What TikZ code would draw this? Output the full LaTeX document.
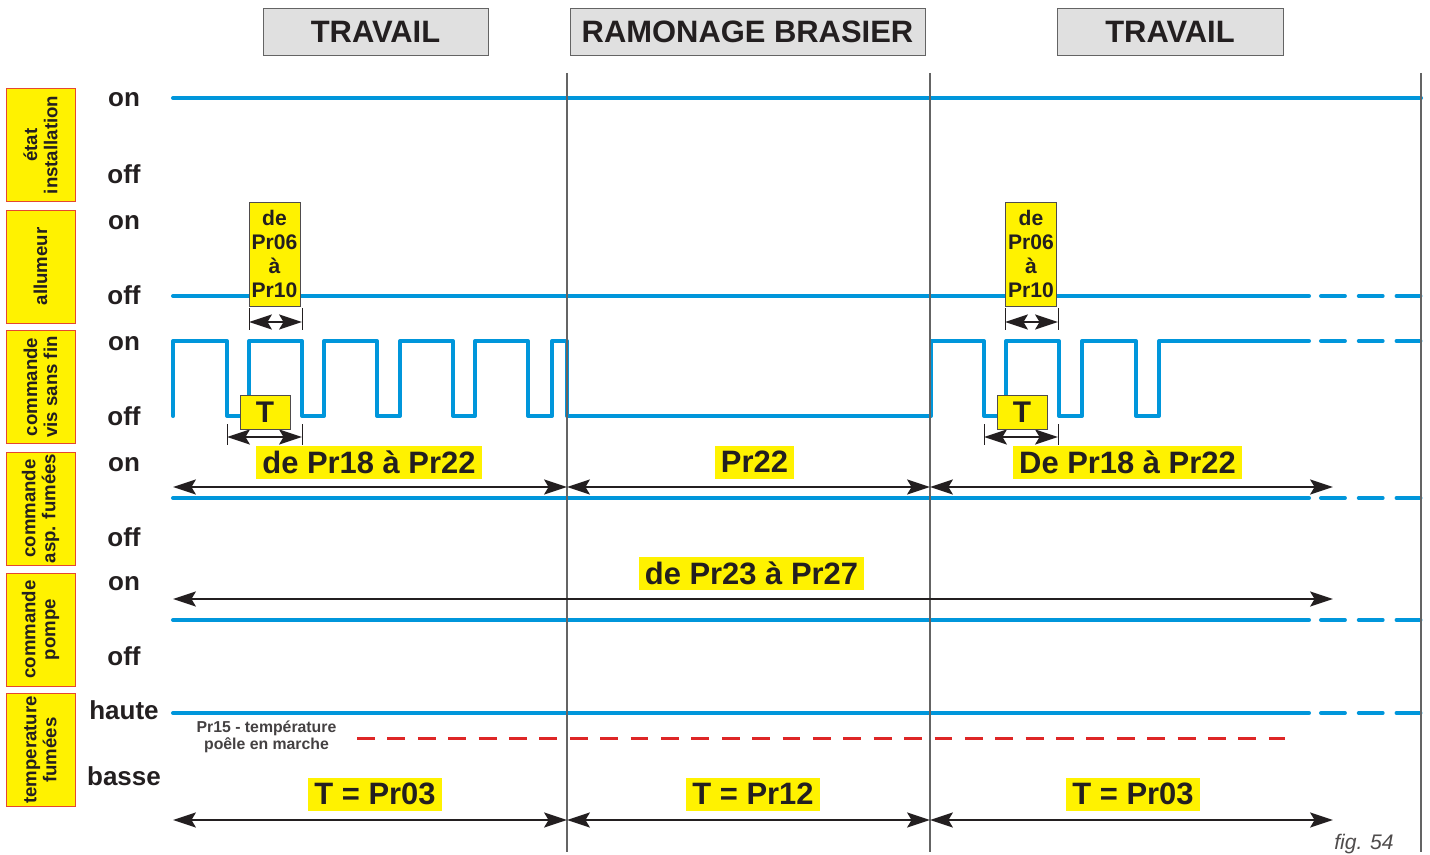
\documentclass[tikz,border=0pt]{standalone}
\usepackage{fontspec}
\setmainfont{Liberation Sans}
\usetikzlibrary{arrows.meta, positioning}

\definecolor{sigblue}{RGB}{0,150,219}
\definecolor{labyellow}{RGB}{255,242,0}
\definecolor{labborder}{RGB}{228,72,48}
\definecolor{headgray}{RGB}{224,224,224}
\definecolor{linegray}{RGB}{100,100,100}
\definecolor{limred}{RGB}{222,38,38}
\definecolor{ink}{RGB}{35,31,32}

\begin{document}
\begin{tikzpicture}[
    x=0.02cm, y=-0.02cm,
    phase/.style={
        draw=linegray,
        fill=headgray,
        minimum height=0.94cm,
        inner sep=0pt,
        font=\fontsize{17.6}{20}\selectfont\bfseries,
        text=ink
    },
    rowlabel/.style={
        draw=labborder,
        fill=labyellow,
        rotate=90,
        minimum width=2.26cm,
        minimum height=1.38cm,
        inner sep=0pt,
        align=center,
        font=\fontsize{10.6}{11.4}\selectfont\bfseries,
        text=ink
    },
    stateval/.style={
        anchor=base,
        inner sep=0pt,
        font=\fontsize{14.8}{16}\selectfont\bfseries,
        text=ink
    },
    sig/.style={
        draw=sigblue,
        line width=2.3pt,
        line join=round,
        line cap=round
    },
    sigdash/.style={
        sig,
        dash pattern=on 13.6pt off 7.9pt
    },
    setpoint/.style={
        draw=limred,
        line width=1.7pt,
        dash pattern=on 10.2pt off 7.1pt
    },
    phaseline/.style={
        draw=linegray,
        line width=0.8pt
    },
    spanarrow/.style={
        <->,
        >={Stealth[length=13pt, width=8.5pt, inset=2.5pt]},
        draw=ink,
        line width=1.2pt
    },
    dimtick/.style={
        draw=ink,
        line width=0.5pt
    },
    valtag/.style={
        fill=labyellow,
        inner xsep=0.12cm,
        inner ysep=0pt,
        minimum height=0.66cm,
        font=\fontsize{17.6}{20}\selectfont\bfseries,
        text=ink
    },
    delaybox/.style={
        draw=ink!80,
        fill=labyellow,
        line width=0.5pt,
        inner sep=0pt,
        minimum width=1.02cm,
        minimum height=2.08cm,
        align=center,
        font=\fontsize{12}{13.6}\selectfont\bfseries,
        text=ink
    },
    tbox/.style={
        draw=ink!80,
        fill=labyellow,
        line width=0.5pt,
        inner sep=0pt,
        minimum width=1.0cm,
        minimum height=0.68cm,
        font=\fontsize{17}{20}\selectfont\bfseries,
        text=ink
    }
]
\useasboundingbox (0,0) rectangle (1430,855);

% Phase boundaries and rows
\coordinate (t0) at (173,0);
\coordinate (t1) at (567,0);
\coordinate (t2) at (930,0);
\coordinate (t3) at (1333,0);
\coordinate (tR) at (1421,0);
\coordinate (top) at (0,73);
\coordinate (bot) at (0,852);
\coordinate (yAsp) at (0,487);
\coordinate (yPompe) at (0,599);
\coordinate (yBas) at (0,820);

% Phase headers
\node (trav1) [phase, minimum width=4.5cm] at (375.5,31.5) {TRAVAIL};
\node (ramon) [phase, minimum width=7.1cm] at (747.5,31.5) {RAMONAGE BRASIER};
\node (trav2) [phase, minimum width=4.52cm] at (1170,31.5) {TRAVAIL};

% Row labels
\node (lblEtat) [rowlabel] at (40.5,145) {état\\installation};
\node (lblAllum) [rowlabel] at (40.5,266.5) {allumeur};
\node (lblVis) [rowlabel] at (40.5,387) {commande\\vis sans fin};
\node (lblAsp) [rowlabel] at (40.5,508.5) {commande\\asp. fumées};
\node (lblPompe) [rowlabel] at (40.5,629.5) {commande\\pompe};
\node (lblTemp) [rowlabel] at (40.5,750) {temperature\\fumées};

% Levels
\node (on1) [stateval] at (124,107) {on};
\node (off1) [stateval] at (124,183) {off};
\node (on2) [stateval] at (124,229) {on};
\node (off2) [stateval] at (124,304) {off};
\node (on3) [stateval] at (124,350) {on};
\node (off3) [stateval] at (124,425) {off};
\node (on4) [stateval] at (124,471) {on};
\node (off4) [stateval] at (124,546) {off};
\node (on5) [stateval] at (124,590) {on};
\node (off5) [stateval] at (124,665) {off};
\node (haute) [stateval] at (124,719) {haute};
\node (basse) [stateval] at (124,785) {basse};

% Signals
\draw [sig] (173,98) -- (1421,98);
\draw [sig] (173,296) -- (1309,296);
\draw [sigdash] (1321,296) -- (1421,296);
\draw [sig] (173,416) -- (173,341) -- (227,341) -- (227,416) -- (249,416) -- (249,341)
    -- (302,341) -- (302,416) -- (324,416) -- (324,341) -- (377,341) -- (377,416)
    -- (400,416) -- (400,341) -- (453,341) -- (453,416) -- (475,416) -- (475,341)
    -- (528,341) -- (528,416) -- (552,416) -- (552,341) -- (567,341) -- (567,416)
    -- (931,416) -- (931,341) -- (984,341) -- (984,416) -- (1006,416) -- (1006,341)
    -- (1059,341) -- (1059,416) -- (1082,416) -- (1082,341) -- (1136,341) -- (1136,416)
    -- (1159,416) -- (1159,341) -- (1309,341);
\draw [sigdash] (1321,341) -- (1421,341);
\draw [sig] (173,498) -- (1309,498);
\draw [sigdash] (1321,498) -- (1421,498);
\draw [sig] (173,620) -- (1309,620);
\draw [sigdash] (1321,620) -- (1421,620);
\draw [sig] (173,713) -- (1309,713);
\draw [sigdash] (1321,713) -- (1421,713);
\draw [setpoint] (357,738) -- (1285,738);

% Phase separators
\draw [phaseline] (t1 |- top) -- (t1 |- bot);
\draw [phaseline] (t2 |- top) -- (t2 |- bot);
\draw [phaseline] (tR |- top) -- (tR |- bot);

% Durations
\draw [spanarrow] (t0 |- yAsp) -- (t1 |- yAsp);
\draw [spanarrow] (t1 |- yAsp) -- (t2 |- yAsp);
\draw [spanarrow] (t2 |- yAsp) -- (t3 |- yAsp);
\draw [spanarrow] (t0 |- yPompe) -- (t3 |- yPompe);
\draw [spanarrow] (t0 |- yBas) -- (t1 |- yBas);
\draw [spanarrow] (t1 |- yBas) -- (t2 |- yBas);
\draw [spanarrow] (t2 |- yBas) -- (t3 |- yBas);

\node (tagA) [valtag] at (369,462.5) {de Pr18 à Pr22};
\node (tagB) [valtag] at (754.5,462) {Pr22};
\node (tagC) [valtag] at (1127.5,462.5) {De Pr18 à Pr22};
\node (tagD) [valtag] at (751.5,573) {de Pr23 à Pr27};
\node (tagE) [valtag] at (375,794) {T = Pr03};
\node (tagF) [valtag] at (753,794) {T = Pr12};
\node (tagG) [valtag] at (1133,794) {T = Pr03};

% Allumeur on time
\coordinate (dA1) at (249,322);
\coordinate (dA2) at (302,322);
\coordinate (dB1) at (1005,322);
\coordinate (dB2) at (1058,322);
\draw [dimtick] (249,308) -- (249,330) (302,308) -- (302,330);
\draw [dimtick] (1005,308) -- (1005,330) (1058,308) -- (1058,330);
\draw [spanarrow] (dA1) -- (dA2);
\draw [spanarrow] (dB1) -- (dB2);
\node (onA) [delaybox] at (274.5,254) {de\\Pr06\\à\\Pr10};
\node (onB) [delaybox] at (1031,254) {de\\Pr06\\à\\Pr10};

% Screw period
\coordinate (pA1) at (227,437);
\coordinate (pA2) at (302,437);
\coordinate (pB1) at (984,437);
\coordinate (pB2) at (1058,437);
\draw [dimtick] (227,424) -- (227,445) (302,424) -- (302,445);
\draw [dimtick] (984,424) -- (984,445) (1058,424) -- (1058,445);
\draw [spanarrow] (pA1) -- (pA2);
\draw [spanarrow] (pB1) -- (pB2);
\node (tA) [tbox] at (265,412) {T};
\node (tB) [tbox] at (1022,412) {T};

\node (pr15) [align=center, inner sep=0pt, text=ink!85, font=\fontsize{9}{9.6}\selectfont\bfseries] at (266.5,737) {Pr15 - température\\poêle en marche};
\node (fig) [anchor=base, inner sep=0pt, text=ink!80, font=\fontsize{12}{14}\selectfont\itshape] at (1364,849) {fig. 54};

\end{tikzpicture}
\end{document}
